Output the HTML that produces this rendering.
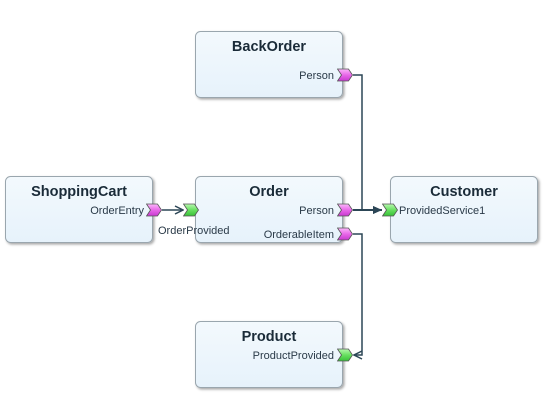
<!DOCTYPE html>
<html><head><style>
body{margin:0;background:#fff;width:550px;height:415px;overflow:hidden}
</style></head><body>
<svg width="550" height="415" viewBox="0 0 550 415" xmlns="http://www.w3.org/2000/svg" font-family="Liberation Sans, sans-serif">
<defs>
<linearGradient id="bg" x1="0" y1="0" x2="0" y2="1"><stop offset="0" stop-color="#f3f9fd"/><stop offset="1" stop-color="#e6f2fb"/></linearGradient>
<linearGradient id="pk" x1="0" y1="0" x2="0" y2="1"><stop offset="0" stop-color="#fbb8fb"/><stop offset="0.5" stop-color="#e868e8"/><stop offset="1" stop-color="#c838d0"/></linearGradient>
<linearGradient id="gr" x1="0" y1="0" x2="0" y2="1"><stop offset="0" stop-color="#b8f8b0"/><stop offset="0.5" stop-color="#68e060"/><stop offset="1" stop-color="#38c038"/></linearGradient>
<filter id="sh" x="-10%" y="-10%" width="130%" height="130%"><feDropShadow dx="1.5" dy="1.5" stdDeviation="1.2" flood-color="#000" flood-opacity="0.35"/></filter>
<marker id="ar" markerWidth="10" markerHeight="10" refX="9" refY="5" orient="auto" markerUnits="userSpaceOnUse"><path d="M1,1 L9,5 L1,9" fill="none" stroke="#2c4656" stroke-width="1.5"/></marker>
<marker id="arf" markerWidth="10" markerHeight="10" refX="9" refY="5" orient="auto" markerUnits="userSpaceOnUse"><path d="M0,1 L9,5 L0,9 Z" fill="#2c4656"/></marker>
<symbol id="chev" viewBox="0 0 16 13"><polygon points="0.5,0.5 11.5,0.5 15.5,6.5 11.5,12.5 0.5,12.5 4.5,6.5" stroke="#555" stroke-width="0.8"/></symbol>
</defs>
<g fill="url(#bg)" stroke="#9aa6ae" stroke-width="1" filter="url(#sh)">
<rect x="195.5" y="31.5" width="147" height="66" rx="5"/>
<rect x="5.5" y="176.5" width="147" height="66" rx="5"/>
<rect x="195.5" y="176.5" width="147" height="66" rx="5"/>
<rect x="390.5" y="176.5" width="147" height="66" rx="5"/>
<rect x="195.5" y="321.5" width="147" height="66" rx="5"/>
</g>
<g font-weight="bold" font-size="14.5" fill="#1a2b38" text-anchor="middle">
<text x="269" y="51">BackOrder</text>
<text x="79" y="196">ShoppingCart</text>
<text x="269" y="196">Order</text>
<text x="464" y="196">Customer</text>
<text x="269" y="341">Product</text>
</g>
<g font-size="11" fill="#2a3a48">
<text x="334" y="79" text-anchor="end">Person</text>
<text x="144" y="214" text-anchor="end">OrderEntry</text>
<text x="334" y="214" text-anchor="end">Person</text>
<text x="334" y="238" text-anchor="end">OrderableItem</text>
<text x="158" y="234">OrderProvided</text>
<text x="399" y="214">ProvidedService1</text>
<text x="334" y="359" text-anchor="end">ProductProvided</text>
</g>
<g fill="none" stroke="#2c4656" stroke-width="1.5">
<polyline points="353,75 362,75 362,210 382,210" marker-end="url(#arf)"/>
<line x1="353" y1="210" x2="382" y2="210" stroke-width="2" marker-end="url(#arf)"/>
<line x1="162" y1="210" x2="183" y2="210" marker-end="url(#ar)"/>
<polyline points="353,234 362,234 362,355 354,355" marker-end="url(#ar)"/>
</g>
<g fill="url(#pk)">
<use href="#chev" x="337" y="68.5" width="16" height="13"/>
<use href="#chev" x="146" y="203.5" width="16" height="13"/>
<use href="#chev" x="337" y="203.5" width="16" height="13"/>
<use href="#chev" x="337" y="227.5" width="16" height="13"/>
</g>
<g fill="url(#gr)">
<use href="#chev" x="183" y="203.5" width="16" height="13"/>
<use href="#chev" x="382" y="203.5" width="16" height="13"/>
<use href="#chev" x="337" y="348.5" width="16" height="13"/>
</g>
</svg>
</body></html>
